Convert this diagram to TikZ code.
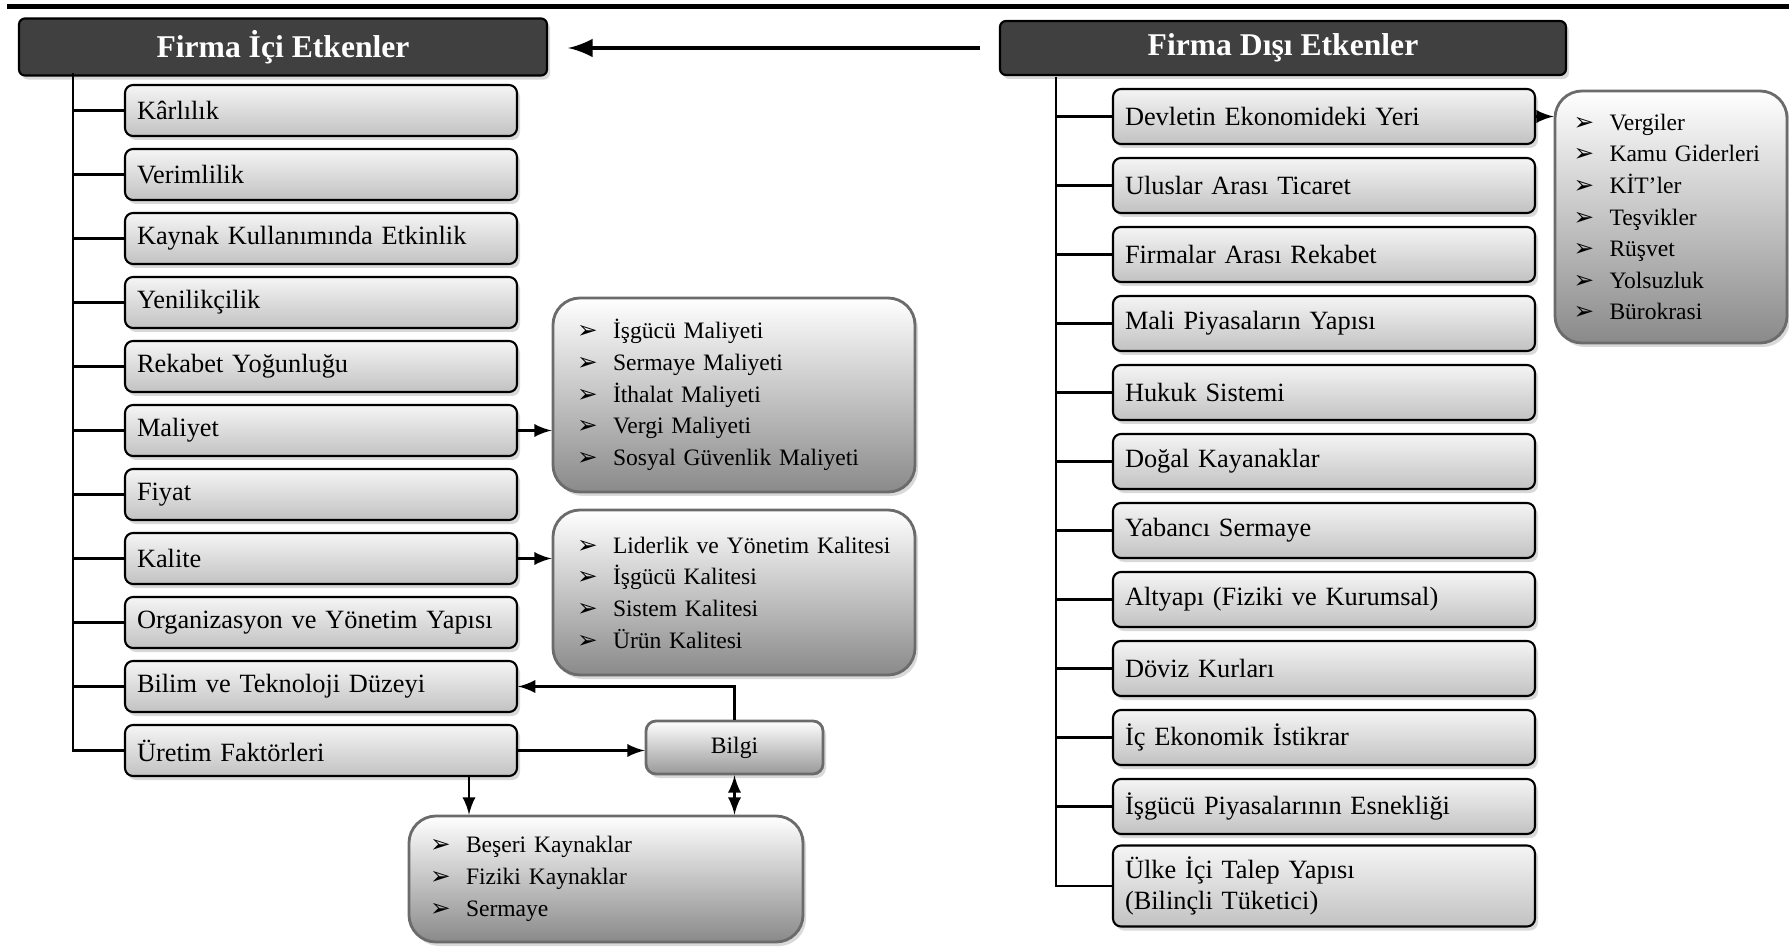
\documentclass[tikz,border=0pt]{standalone}
\usepackage{fontspec}
\setmainfont{Liberation Serif}
\newfontfamily\dingfont{DejaVu Sans}
\usetikzlibrary{shadows}
\newcommand{\bul}{\makebox[0.36cm][l]{\dingfont\fontsize{7}{9}\selectfont ➢}}

\begin{document}
\begin{tikzpicture}[
	head/.style={draw,rectangle,rounded corners=0.06cm,line width=0.6pt,fill=black!75,text=white,font=\fontsize{9}{11}\selectfont\bfseries,drop shadow={opacity=0.3,shadow xshift=0.03cm,shadow yshift=-0.04cm}},
	item/.style={draw,rectangle,rounded corners=0.08cm,line width=0.6pt,top color=gray!8,bottom color=gray!48,align=left,inner xsep=0.12cm,font=\fontsize{7.5}{8.6}\selectfont,drop shadow={opacity=0.3,shadow xshift=0.03cm,shadow yshift=-0.04cm}},
	initem/.style={item,text width=3.68cm,minimum height=0.51cm},
	outitem/.style={item,text width=3.98cm,minimum height=0.55cm},
	list/.style={draw=black!58,rectangle,rounded corners=0.27cm,line width=0.8pt,top color=white,bottom color=black!46,align=left,inner xsep=0.24cm,font=\fontsize{6.7}{9}\selectfont,drop shadow={opacity=0.3,shadow xshift=0.03cm,shadow yshift=-0.04cm}},
	bilgibox/.style={draw=black!58,rectangle,rounded corners=0.1cm,line width=0.8pt,top color=white,bottom color=black!40,minimum width=1.77cm,minimum height=0.53cm,font=\fontsize{6.7}{9}\selectfont,drop shadow={opacity=0.3,shadow xshift=0.03cm,shadow yshift=-0.04cm}}
	]
	\useasboundingbox (0,0) rectangle (17.89,-9.47);
	\draw[line width=1.7pt] (0.07,-0.065) -- (17.89,-0.065);
	%headers
	\node[head,minimum width=5.28cm,minimum height=0.52cm] (inhead) at (2.83,-0.47) {Firma İçi Etkenler};
	\node[head,minimum width=5.66cm,minimum height=0.54cm] (outhead) at (12.83,-0.48) {Firma Dışı Etkenler};
	\draw[->,>=latex,line width=1.4pt,shorten <=0.19cm,shorten >=0.2cm] (outhead.west) -- (outhead.west -| inhead.east);
	%firma ici
	\node[initem] (karlilik) at (3.21,-1.105) {Kârlılık};
	\node[initem] (verim) at (3.21,-1.745) {Verimlilik};
	\node[initem] (kaynak) at (3.21,-2.385) {Kaynak Kullanımında Etkinlik};
	\node[initem] (yenilik) at (3.21,-3.025) {Yenilikçilik};
	\node[initem] (rekabet) at (3.21,-3.665) {Rekabet Yoğunluğu};
	\node[initem] (maliyet) at (3.21,-4.305) {Maliyet};
	\node[initem] (fiyat) at (3.21,-4.945) {Fiyat};
	\node[initem] (kalite) at (3.21,-5.585) {Kalite};
	\node[initem] (organ) at (3.21,-6.225) {Organizasyon ve Yönetim Yapısı};
	\node[initem] (bilim) at (3.21,-6.865) {Bilim ve Teknoloji Düzeyi};
	\node[initem] (uretim) at (3.21,-7.505) {Üretim Faktörleri};
	\coordinate (ltree) at (0.73,-0.73);
	\draw[line width=0.6pt] (ltree) |- (uretim.west);
	\draw[line width=0.6pt] (ltree |- karlilik.west) -- (karlilik.west);
	\draw[line width=0.6pt] (ltree |- verim.west) -- (verim.west);
	\draw[line width=0.6pt] (ltree |- kaynak.west) -- (kaynak.west);
	\draw[line width=0.6pt] (ltree |- yenilik.west) -- (yenilik.west);
	\draw[line width=0.6pt] (ltree |- rekabet.west) -- (rekabet.west);
	\draw[line width=0.6pt] (ltree |- maliyet.west) -- (maliyet.west);
	\draw[line width=0.6pt] (ltree |- fiyat.west) -- (fiyat.west);
	\draw[line width=0.6pt] (ltree |- kalite.west) -- (kalite.west);
	\draw[line width=0.6pt] (ltree |- organ.west) -- (organ.west);
	\draw[line width=0.6pt] (ltree |- bilim.west) -- (bilim.west);
	%alt kutular
	\node[list,text width=3.14cm,minimum height=1.94cm] (maliyetlist) at (7.34,-3.95) {\bul İşgücü Maliyeti\\ \bul Sermaye Maliyeti\\ \bul İthalat Maliyeti\\ \bul Vergi Maliyeti\\ \bul Sosyal Güvenlik Maliyeti};
	\node[list,text width=3.14cm,minimum height=1.65cm] (kalitelist) at (7.34,-5.925) {\bul Liderlik ve Yönetim Kalitesi\\ \bul İşgücü Kalitesi\\ \bul Sistem Kalitesi\\ \bul Ürün Kalitesi};
	\node[bilgibox] (bilgi) at (7.345,-7.475) {Bilgi};
	\node[list,inner xsep=0.21cm,text width=3.52cm,minimum height=1.26cm] (kaynaklist) at (6.06,-8.79) {\bul Beşeri Kaynaklar\\ \bul Fiziki Kaynaklar\\ \bul Sermaye};
	\draw[->,>=latex,line width=0.7pt] (maliyet.east) -- (maliyet.east -| maliyetlist.west);
	\draw[->,>=latex,line width=0.7pt] (kalite.east) -- (kalite.east -| kalitelist.west);
	\draw[->,>=latex,line width=0.7pt] (uretim.east) -- (uretim.east -| bilgi.west);
	\draw[->,>=latex,line width=0.7pt] (bilgi.north) |- (bilim.east);
	\draw[<->,>=latex,line width=0.7pt] (bilgi.south) -- (bilgi.south |- kaynaklist.north);
	\draw[->,>=latex,line width=0.7pt] ([xshift=1.48cm]uretim.south) -- ([xshift=1.48cm]uretim.south |- kaynaklist.north);
	%firma disi
	\node[outitem] (devlet) at (13.24,-1.165) {Devletin Ekonomideki Yeri};
	\node[outitem] (ticaret) at (13.24,-1.855) {Uluslar Arası Ticaret};
	\node[outitem] (firmalar) at (13.24,-2.545) {Firmalar Arası Rekabet};
	\node[outitem] (mali) at (13.24,-3.235) {Mali Piyasaların Yapısı};
	\node[outitem] (hukuk) at (13.24,-3.925) {Hukuk Sistemi};
	\node[outitem] (dogal) at (13.24,-4.615) {Doğal Kayanaklar};
	\node[outitem] (yabanci) at (13.24,-5.305) {Yabancı Sermaye};
	\node[outitem] (altyapi) at (13.24,-5.995) {Altyapı (Fiziki ve Kurumsal)};
	\node[outitem] (doviz) at (13.24,-6.685) {Döviz Kurları};
	\node[outitem] (istikrar) at (13.24,-7.375) {İç Ekonomik İstikrar};
	\node[outitem] (isgucu) at (13.24,-8.065) {İşgücü Piyasalarının Esnekliği};
	\node[outitem,minimum height=0.66cm] (talep) at (13.24,-8.86) {Ülke İçi Talep Yapısı\\(Bilinçli Tüketici)};
	\coordinate (rtree) at (10.56,-0.77);
	\draw[line width=0.6pt] (rtree) |- (talep.west);
	\draw[line width=0.6pt] (rtree |- devlet.west) -- (devlet.west);
	\draw[line width=0.6pt] (rtree |- ticaret.west) -- (ticaret.west);
	\draw[line width=0.6pt] (rtree |- firmalar.west) -- (firmalar.west);
	\draw[line width=0.6pt] (rtree |- mali.west) -- (mali.west);
	\draw[line width=0.6pt] (rtree |- hukuk.west) -- (hukuk.west);
	\draw[line width=0.6pt] (rtree |- dogal.west) -- (dogal.west);
	\draw[line width=0.6pt] (rtree |- yabanci.west) -- (yabanci.west);
	\draw[line width=0.6pt] (rtree |- altyapi.west) -- (altyapi.west);
	\draw[line width=0.6pt] (rtree |- doviz.west) -- (doviz.west);
	\draw[line width=0.6pt] (rtree |- istikrar.west) -- (istikrar.west);
	\draw[line width=0.6pt] (rtree |- isgucu.west) -- (isgucu.west);
	\node[list,inner xsep=0.185cm,text width=1.95cm,minimum height=2.52cm] (devletlist) at (16.71,-2.17) {\bul Vergiler\\ \bul Kamu Giderleri\\ \bul KİT’ler\\ \bul Teşvikler\\ \bul Rüşvet\\ \bul Yolsuzluk\\ \bul Bürokrasi};
	\draw[->,>=latex,line width=0.7pt] (devlet.east) -- (devlet.east -| devletlist.west);
\end{tikzpicture}
\end{document}
